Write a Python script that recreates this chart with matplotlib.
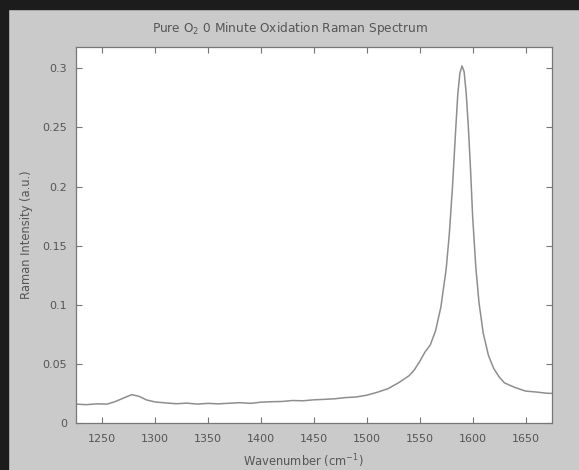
import matplotlib
matplotlib.use('Agg')
import matplotlib.pyplot as plt
from matplotlib.patches import Rectangle

plt.rcParams['font.family'] = ['DejaVu Sans']
plt.rcParams['mathtext.default'] = 'regular'

# Raman spectrum
wavenumber = [1225, 1235, 1245, 1255, 1262, 1270, 1278, 1285, 1292, 1300,
              1310, 1320, 1330, 1340, 1350, 1360, 1370, 1380, 1390, 1400,
              1410, 1420, 1430, 1440, 1450, 1460, 1470, 1480, 1490, 1500,
              1510, 1520, 1530, 1540, 1545, 1550, 1555, 1560, 1565, 1570,
              1575, 1578, 1581, 1584, 1586, 1588, 1590, 1592, 1594, 1596,
              1598, 1600, 1603, 1606, 1610, 1615, 1620, 1625, 1630, 1640,
              1650, 1660, 1670, 1675]
intensity = [0.0160, 0.0155, 0.0162, 0.0160, 0.0180, 0.0210, 0.0240, 0.0225, 0.0195, 0.0178,
             0.0170, 0.0163, 0.0168, 0.0160, 0.0166, 0.0162, 0.0167, 0.0172, 0.0166, 0.0176,
             0.0180, 0.0182, 0.0190, 0.0188, 0.0196, 0.0200, 0.0205, 0.0215, 0.0220, 0.0235,
             0.0260, 0.0290, 0.0340, 0.0400, 0.0450, 0.0520, 0.0600, 0.0660, 0.0780, 0.0980,
             0.1300, 0.1600, 0.2000, 0.2480, 0.2780, 0.2960, 0.3020, 0.2970, 0.2780, 0.2500,
             0.2150, 0.1750, 0.1320, 0.1020, 0.0760, 0.0570, 0.0460, 0.0390, 0.0340, 0.0300,
             0.0270, 0.0262, 0.0252, 0.0250]

xticks = [1250, 1300, 1350, 1400, 1450, 1500, 1550, 1600, 1650]
yticks = [0, 0.05, 0.1, 0.15, 0.2, 0.25, 0.3]
ytick_labels = ['0', '0.05', '0.1', '0.15', '0.2', '0.25', '0.3']

text_col = '#555555'
fig = plt.figure(figsize=(5.79, 4.70), dpi=100, facecolor='#cacaca')

# dark frame on the left and top edges
fig.patches.append(Rectangle((0, 0), 8 / 579, 1, transform=fig.transFigure,
                             color='#1c1c1c', zorder=0))
fig.patches.append(Rectangle((0, 1 - 9 / 470), 1, 9 / 470, transform=fig.transFigure,
                             color='#1c1c1c', zorder=0))

ax = fig.add_axes([0.1306, 0.1, 0.8228, 0.8])
ax.plot(wavenumber, intensity, color='#8e8e8e', lw=1.1)

ax.set_xlim(1225, 1675)
ax.set_ylim(0, 0.318)
ax.set_xticks(xticks)
ax.set_yticks(yticks)
ax.set_yticklabels(ytick_labels)
ax.tick_params(direction='in', top=True, right=True, length=4, width=0.8,
               colors='#777777', labelcolor=text_col, labelsize=8)
ax.tick_params(axis='x', pad=8)
ax.tick_params(axis='y', pad=6)
for s in ax.spines.values():
    s.set_color('#777777')
    s.set_linewidth(0.9)

# title and x label sit a little left of the axes centre in the original
ax.set_title('Pure O$_2$ 0 Minute Oxidation Raman Spectrum', fontsize=8.7,
             color=text_col, pad=11, x=0.45)
ax.set_xlabel('Wavenumber (cm$^{-1}$)', fontsize=8.3, color=text_col)
ax.xaxis.set_label_coords(0.479, -0.078)
ax.set_ylabel('Raman Intensity (a.u.)', fontsize=8.3, color=text_col, labelpad=7)

fig.savefig('out.png', dpi=100, facecolor=fig.get_facecolor())
